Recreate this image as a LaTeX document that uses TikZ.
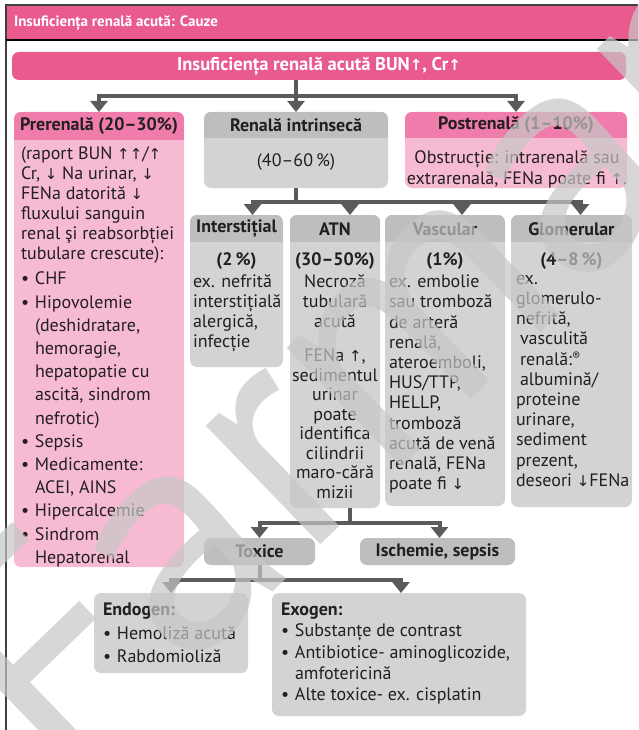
\documentclass[tikz,border=0pt]{standalone}
\usepackage{fontspec}
\setmainfont{PT Sans}
\newfontfamily\arrfont{DejaVu Sans}
\usetikzlibrary{arrows.meta,calc}
\definecolor{pinkA}{HTML}{E95A8F}
\definecolor{pinkH}{HTML}{EF7CAA}
\definecolor{pinkB}{HTML}{F6BBD3}
\definecolor{grayH}{HTML}{BDBEC0}
\definecolor{grayB}{HTML}{D2D3D5}
\definecolor{conncol}{HTML}{5B5B5B}
\definecolor{ink}{HTML}{231F20}
\newcommand\UA{{\arrfont\fontsize{15}{15}\selectfont ↑}}
\newcommand\DA{{\arrfont\fontsize{15}{15}\selectfont ↓}}
\newcommand\bul{\makebox[14pt][l]{•}}
\newcommand\ind{\hspace*{14pt}}
\newcommand\hdrfill[3]{%
  \begin{scope}
    \clip[rounded corners=7pt] (#1.north west) rectangle (#1.south east);
    \fill[#2] (#1.north west) rectangle ($(#1.north east)+(0,#3)$);
  \end{scope}}
\tikzset{
  box/.style={anchor=north west, rounded corners=7pt, draw=none, inner sep=0pt},
  htext/.style={font=\bfseries\fontsize{18}{18}\selectfont, anchor=center},
  btext/.style={font=\fontsize{18}{20}\selectfont},
  conn/.style={draw=conncol, line width=4pt, -{Triangle[width=17pt,length=11pt]}},
  connl/.style={draw=conncol, line width=4pt},
}
\begin{document}
\begin{tikzpicture}[x=1pt,y=-1pt, every node/.style={inner sep=0pt, outer sep=0pt, text=ink}]
\useasboundingbox (0,0) rectangle (638,730);
\fill[white] (0,0) rectangle (638,730);
% frame and title
\fill[pinkA] (6,5) rectangle (638,40);
\draw[line width=1.2pt, black!75] (6,730) -- (6,5) -- (638,5);
\draw[line width=1.2pt, black] (6,40) -- (638,40);
\node[anchor=west, text=white, font=\bfseries\fontsize{15}{15}\selectfont] (title) at (14,23) {Insuficiența renală acută: Cauze};
% main bar
\node[box, fill=pinkA, minimum width=614pt, minimum height=28pt, text=white, font=\bfseries\fontsize{18.5}{18.5}\selectfont] (main) at (12,52) {Insuficiența renală acută BUN\UA, Cr\UA};
% level 1 boxes
\node[box, fill=pinkB, minimum width=170pt, minimum height=455pt] (pre) at (14,112) {};
\node[box, fill=grayB, minimum width=184pt, minimum height=76pt] (intr) at (204,112) {};
\node[box, fill=pinkB, minimum width=222pt, minimum height=76pt] (post) at (405,112) {};
\hdrfill{pre}{pinkH}{28}
\hdrfill{intr}{grayH}{26}
\hdrfill{post}{pinkH}{26}
\node[htext] (preH) at ($(pre.north)+(0,14)$) {Prerenală (20–30\%)};
\node[htext] (intrH) at ($(intr.north)+(0,13)$) {Renală intrinsecă};
\node[htext] (postH) at ($(post.north)+(0,13)$) {Postrenală (1–10\%)};
\node[btext, anchor=north west, align=left] (preT1) at (21,147) {(raport BUN \UA\UA/\UA\\Cr, \DA{} Na urinar, \DA\\FENa datorită \DA\\fluxului sanguin\\renal şi reabsorbției\\tubulare crescute):};
\node[anchor=north west, align=left, font=\fontsize{18}{23.2}\selectfont] (preT2) at (21,272) {\bul CHF\\\bul Hipovolemie\\\ind(deshidratare,\\\ind hemoragie,\\\ind hepatopatie cu\\\ind ascită, sindrom\\\ind nefrotic)\\\bul Sepsis\\\bul Medicamente:\\\ind ACEI, AINS\\\bul Hipercalcemie\\\bul Sindrom\\\ind Hepatorenal};
\node[btext] (intrT) at ($(intr.north)+(0,50)$) {(40–60\,\%)};
\node[anchor=center, align=center, font=\fontsize{18}{21}\selectfont] (postT) at ($(post.north)+(1,57)$) {Obstrucție: intrarenală sau\\extrarenală, FENa poate fi \UA.};
% level 2 boxes
\node[box, fill=grayB, minimum width=93pt, minimum height=152pt] (inter) at (190,215) {};
\node[box, fill=grayB, minimum width=90pt, minimum height=293pt] (atn) at (290,215) {};
\node[box, fill=grayB, minimum width=120pt, minimum height=291pt] (vasc) at (385,215) {};
\node[box, fill=grayB, minimum width=121pt, minimum height=292pt] (glom) at (511,215) {};
\hdrfill{inter}{grayH}{27}
\hdrfill{atn}{grayH}{27}
\hdrfill{vasc}{grayH}{27}
\hdrfill{glom}{grayH}{27}
\node[htext] (interH) at ($(inter.north)+(0,14)$) {Interstițial};
\node[htext] (atnH) at ($(atn.north)+(0,14)$) {ATN};
\node[htext] (vascH) at ($(vasc.north)+(0,14)$) {Vascular};
\node[htext] (glomH) at ($(glom.north)+(0,14)$) {Glomerular};
\node[htext] (interP) at ($(inter.north)+(0,46)$) {(2\,\%)};
\node[htext] (atnP) at ($(atn.north)+(0,46)$) {(30–50\%)};
\node[htext] (vascP) at ($(vasc.north)+(0,46)$) {(1\%)};
\node[htext] (glomP) at ($(glom.north)+(0,46)$) {(4–8\,\%)};
\node[btext, anchor=north west, align=left] (interT) at (193,275) {ex. nefrită\\interstițială\\alergică,\\infecție};
\node[btext, anchor=north, align=center] (atnT1) at ($(atn.north)+(0,60)$) {Necroză\\tubulară\\acută};
\node[anchor=north, align=center, font=\fontsize{18}{19.5}\selectfont] (atnT2) at ($(atn.north)+(0,134)$) {FENa \UA,\\sedimentul\\urinar\\poate\\identifica\\cilindrii\\maro-cără\\mizii};
\node[anchor=north west, align=left, font=\fontsize{18}{20.2}\selectfont] (vascT) at (389,275) {ex. embolie\\sau tromboză\\de arteră\\renală,\\ateroemboli,\\HUS/TTP,\\HELLP,\\tromboză\\acută de venă\\renală, FENa\\poate fi \DA};
\node[anchor=north west, align=left, font=\fontsize{18}{20.2}\selectfont] (glomT) at (516,275) {ex.\\glomerulo-\\nefrită,\\\hspace*{4pt}vasculită\\\hspace*{4pt}renală:\raisebox{5pt}{\fontsize{12}{12}\selectfont ®}\\\hspace*{4pt}albumină/\\proteine\\urinare,\\sediment\\prezent,\\deseori \DA FENa};
% level 3
\node[box, fill=grayH, minimum width=111pt, minimum height=27pt, font=\bfseries\fontsize{18}{18}\selectfont] (tox) at (204,538) {Toxice};
\node[box, fill=grayH, minimum width=155pt, minimum height=27pt, font=\bfseries\fontsize{18}{18}\selectfont] (isch) at (360,538) {Ischemie, sepsis};
\node[box, fill=grayB, minimum width=154pt, minimum height=80pt] (endo) at (94,593) {};
\node[box, fill=grayB, minimum width=254pt, minimum height=123pt] (exo) at (272,593) {};
\node[anchor=north west, align=left, font=\fontsize{18}{23.5}\selectfont] (endoT) at (103,603) {\textbf{Endogen:}\\\bul Hemoliză acută\\\bul Rabdomioliză};
\node[anchor=north west, align=left, font=\fontsize{18}{21.3}\selectfont] (exoT) at (281,603) {\textbf{Exogen:}\\\bul Substanțe de contrast\\\bul Antibiotice- aminoglicozide,\\\ind amfotericină\\\bul Alte toxice- ex. cisplatin};
% connectors
\coordinate (b1) at ($(main.south -| intr.north)+(0,16)$);
\draw[connl] (main.south -| intr.north) -- (b1);
\draw[conn] (b1) -| (pre.north);
\draw[conn] (b1) -- (intr.north);
\draw[conn] (b1) -| (post.north);
\coordinate (b2) at ($(intr.south)+(0,14)$);
\draw[connl] (intr.south) -- (b2);
\draw[conn] (b2) -| ($(inter.north)+(16,0)$);
\draw[conn] (b2) -| ($(atn.north)+(15,0)$);
\draw[conn] (b2) -| ($(vasc.north)+(17,0)$);
\draw[conn] (b2) -| ($(glom.north)+(9,0)$);
\coordinate (b3) at ($(atn.south)+(15,15)$);
\draw[connl] ($(atn.south)+(15,0)$) -- (b3);
\draw[conn] (b3) -| (tox.north);
\draw[conn] (b3) -| ($(isch.north)+(2,0)$);
\coordinate (b4) at ($(tox.south)+(0,15)$);
\draw[connl] (tox.south) -- (b4);
\draw[conn] (b4) -| (endo.north);
\draw[conn] (b4) -| ($(exo.north)+(2,0)$);
% watermark
\node[anchor=base west, rotate=44, text=black!22, opacity=0.7, font=\fontsize{330}{330}\selectfont] (wm) at (62,795) {Farmamedica};
\end{tikzpicture}
\end{document}
